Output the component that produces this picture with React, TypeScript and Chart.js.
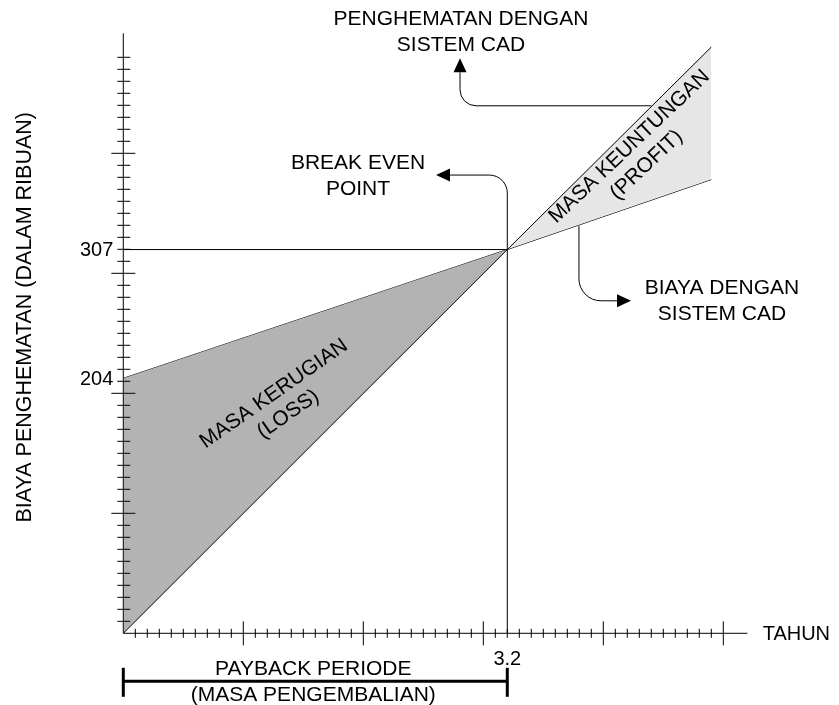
import React, { useEffect, useRef } from 'react';
import { Chart, registerables } from 'chart.js';

Chart.register(...registerables);

// ---- data (years, thousands) ----
const years = [0, 3.2, 4.9];
const savingsValues = [0, 307, 469];
const costValues = [204, 307, 363];
const breakEvenYear = 3.2;
const breakEvenValue = 307;
const yTickLabelValues = [204, 307];
const xTickLabelValues = [3.2];

const X_MAX = 5.2;
const Y_MAX = 480;
const X_MINOR_STEP = 0.1;
const X_MINOR_COUNT = 50;
const Y_MINOR_STEP = 9.6;
const Y_MINOR_COUNT = 48;

const xTitle = 'TAHUN';
const yTitle = 'BIAYA PENGHEMATAN (DALAM RIBUAN)';
const profitLabel = ['MASA KEUNTUNGAN', '(PROFIT)'];
const lossLabel = ['MASA KERUGIAN', '(LOSS)'];
const savingsNote = ['PENGHEMATAN DENGAN', 'SISTEM CAD'];
const costNote = ['BIAYA DENGAN', 'SISTEM CAD'];
const bepNote = ['BREAK EVEN', 'POINT'];
const paybackNote = ['PAYBACK PERIODE', '(MASA PENGEMBALIAN)'];

// arrow paths in data coordinates: start, corner, tip
const savingsArrow = [
  { x: 4.4, y: 422 },
  { x: 2.806, y: 422 },
  { x: 2.806, y: 460 },
];
const bepArrow = [
  { x: 3.2, y: 0 },
  { x: 3.2, y: 366.6 },
  { x: 2.606, y: 366.6 },
];
const costArrow = [
  { x: 3.797, y: 326 },
  { x: 3.797, y: 266 },
  { x: 4.231, y: 266 },
];

const FAMILY = "'Liberation Sans', Arial, sans-serif";
const NOTE_FONT = `21px ${FAMILY}`;
const TICK_FONT = `20px ${FAMILY}`;
const TITLE_FONT = `21.5px ${FAMILY}`;
const INK = '#000000';
const LOSS_FILL = '#b3b3b3';
const PROFIT_FILL = '#e6e6e6';

function seg(ctx: CanvasRenderingContext2D, x1: number, y1: number, x2: number, y2: number) {
  ctx.beginPath();
  ctx.moveTo(x1, y1);
  ctx.lineTo(x2, y2);
  ctx.stroke();
}

function drawArrow(ctx: CanvasRenderingContext2D, pts: { x: number; y: number }[], radius: number) {
  const head = 14;
  const hw = 6.5;
  const tip = pts[pts.length - 1];
  const prev = pts[pts.length - 2];
  const dx = tip.x - prev.x;
  const dy = tip.y - prev.y;
  const len = Math.hypot(dx, dy);
  const ux = dx / len;
  const uy = dy / len;
  const base = { x: tip.x - ux * head, y: tip.y - uy * head };
  ctx.beginPath();
  ctx.moveTo(pts[0].x, pts[0].y);
  for (let i = 1; i < pts.length - 1; i++) {
    const nxt = i + 1 === pts.length - 1 ? base : pts[i + 1];
    ctx.arcTo(pts[i].x, pts[i].y, nxt.x, nxt.y, radius);
  }
  ctx.lineTo(base.x, base.y);
  ctx.stroke();
  ctx.beginPath();
  ctx.moveTo(tip.x, tip.y);
  ctx.lineTo(base.x - uy * hw, base.y + ux * hw);
  ctx.lineTo(base.x + uy * hw, base.y - ux * hw);
  ctx.closePath();
  ctx.fill();
}

function drawLines(ctx: CanvasRenderingContext2D, lines: string[], cx: number, firstBaseline: number, lh: number) {
  lines.forEach((t, i) => ctx.fillText(t, cx, firstBaseline + i * lh));
}

function drawRotatedBlock(ctx: CanvasRenderingContext2D, lines: string[], cx: number, cy: number, angleDeg: number, lh: number) {
  ctx.save();
  ctx.translate(cx, cy);
  ctx.rotate((angleDeg * Math.PI) / 180);
  ctx.textAlign = 'center';
  ctx.textBaseline = 'middle';
  const off = ((lines.length - 1) * lh) / 2;
  lines.forEach((t, i) => ctx.fillText(t, 0, i * lh - off));
  ctx.restore();
}

const schematicPlugin = {
  id: 'schematic',
  afterDatasetsDraw(chart: any) {
    const { ctx } = chart;
    const xs = chart.scales.x;
    const ys = chart.scales.y;
    const px = (v: number) => xs.getPixelForValue(v);
    const py = (v: number) => ys.getPixelForValue(v);
    const P = (p: { x: number; y: number }) => ({ x: px(p.x), y: py(p.y) });
    const x0 = px(0);
    const y0 = py(0);

    ctx.save();
    ctx.strokeStyle = INK;
    ctx.fillStyle = INK;
    ctx.lineWidth = 1;

    // axes
    seg(ctx, x0, y0, x0, py(Y_MAX));
    seg(ctx, x0, y0, px(X_MAX), y0);
    for (let i = 1; i <= X_MINOR_COUNT; i++) {
      const xx = px(i * X_MINOR_STEP);
      const len = i % 10 === 0 ? 12 : 4.5;
      seg(ctx, xx, y0 - len, xx, y0 + len);
    }
    for (let i = 1; i <= Y_MINOR_COUNT; i++) {
      const yy = py(i * Y_MINOR_STEP);
      const major = i % 10 === 0;
      seg(ctx, x0 - (major ? 12 : 6), yy, x0 + (major ? 12 : 7), yy);
    }

    // arrows
    drawArrow(ctx, savingsArrow.map(P), 16);
    drawArrow(ctx, bepArrow.map(P), 18);
    drawArrow(ctx, costArrow.map(P), 22);

    // payback bar
    const barY = y0 + 48;
    const bx1 = px(0);
    const bx2 = px(breakEvenYear);
    ctx.lineWidth = 3;
    seg(ctx, bx1, barY, bx2, barY);
    seg(ctx, bx1, barY - 13.5, bx1, barY + 15.5);
    seg(ctx, bx2, barY - 13.5, bx2, barY + 15.5);
    ctx.lineWidth = 1;

    // texts
    ctx.font = NOTE_FONT;
    ctx.textAlign = 'center';
    ctx.textBaseline = 'alphabetic';
    drawLines(ctx, paybackNote, (bx1 + bx2) / 2 - 2, barY - 6.5, 26.5);
    drawLines(ctx, bepNote, px(1.956), py(371.4), 26);
    drawLines(ctx, savingsNote, px(2.814), py(486.6), 25.7);
    drawLines(ctx, costNote, px(4.989), py(271.4), 26);

    ctx.font = TICK_FONT;
    xTickLabelValues.forEach((v) => ctx.fillText(String(v), px(v), y0 + 32));

    ctx.textAlign = 'right';
    ctx.textBaseline = 'middle';
    yTickLabelValues.forEach((v) => ctx.fillText(String(v), x0 - 10, py(v) + 1));

    ctx.textAlign = 'left';
    ctx.textBaseline = 'middle';
    ctx.fillText(xTitle, px(5.328), y0 + 1);

    ctx.font = TITLE_FONT;
    drawRotatedBlock(ctx, [yTitle], x0 - 98, (py(0) + py(Y_MAX)) / 2 - 16, -90, 26);
    ctx.font = NOTE_FONT;
    drawRotatedBlock(ctx, lossLabel, px(1.314), py(183.4), -35, 25);
    drawRotatedBlock(ctx, profitLabel, px(4.289), py(382), -43.5, 25);

    ctx.restore();
  },
};

export default function App() {
  const ref = useRef<HTMLCanvasElement | null>(null);

  useEffect(() => {
    if (!ref.current) return;
    const pts = (vals: number[]) => years.map((x, i) => ({ x, y: vals[i] }));
    const chart = new Chart(ref.current, {
      type: 'line',
      data: {
        datasets: [
          {
            label: 'Penghematan',
            data: pts(savingsValues),
            borderColor: INK,
            borderWidth: 1,
            pointRadius: 0,
            tension: 0,
            fill: { target: 1, above: PROFIT_FILL, below: LOSS_FILL },
          },
          {
            label: 'Biaya',
            data: pts(costValues),
            borderColor: INK,
            borderWidth: 1,
            pointRadius: 0,
            tension: 0,
            fill: false,
          },
          {
            label: 'BEP',
            data: [
              { x: 0, y: breakEvenValue },
              { x: breakEvenYear, y: breakEvenValue },
            ],
            borderColor: INK,
            borderWidth: 1,
            pointRadius: 0,
            fill: false,
          },
        ],
      },
      options: {
        animation: false,
        responsive: true,
        maintainAspectRatio: false,
        layout: { padding: { left: 123.3, right: 91.7, top: 33.3, bottom: 71.7 } },
        scales: {
          x: { type: 'linear', min: 0, max: X_MAX, display: false },
          y: { type: 'linear', min: 0, max: Y_MAX, display: false },
        },
        plugins: { legend: { display: false }, tooltip: { enabled: false } },
        events: [],
      },
      plugins: [schematicPlugin],
    });
    return () => chart.destroy();
  }, []);

  return (
    <div style={{ position: 'fixed', left: 0, top: 0, width: 839, height: 705, background: '#fff' }}>
      <canvas ref={ref} />
    </div>
  );
}
